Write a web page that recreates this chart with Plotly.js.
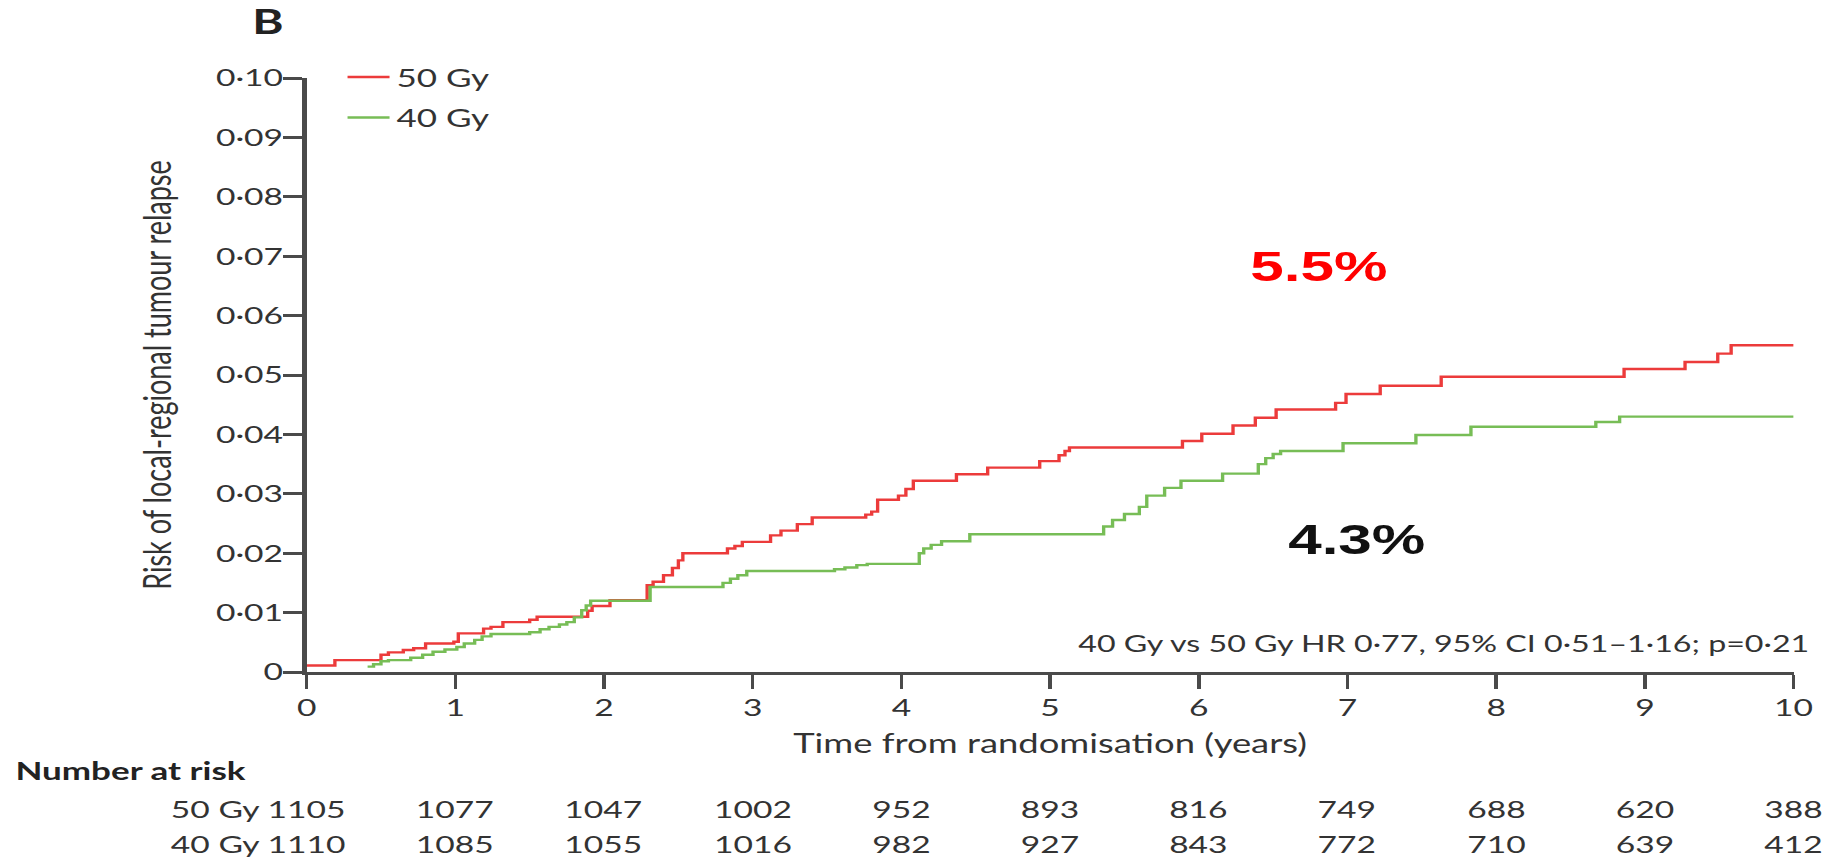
<!DOCTYPE html>
<html>
<head>
<meta charset="utf-8">
<script src="https://cdn.plot.ly/plotly-3.0.1.min.js"></script>
<style>
  html, body { margin: 0; padding: 0; background: #fff; overflow: hidden; }
  #frame { width: 1830px; height: 859px; overflow: hidden; position: relative; }
  #chart { transform-origin: 0 0; }
</style>
</head>
<body>
<div id="frame"><div id="chart"></div></div>
<script>
// Cumulative risk of local-regional tumour relapse (Kaplan-Meier style step curves)
const years = [0, 1, 2, 3, 4, 5, 6, 7, 8, 9, 10];
const yearLabels = ['0', '1', '2', '3', '4', '5', '6', '7', '8', '9', '10'];

const riskTicks = [0, 0.01, 0.02, 0.03, 0.04, 0.05, 0.06, 0.07, 0.08, 0.09, 0.10];
const riskTickLabels = ['0', '0·01', '0·02', '0·03', '0·04', '0·05', '0·06', '0·07', '0·08', '0·09', '0·10'];

// 50 Gy arm: event times (years) and cumulative risk
const time50 = [0.00, 0.19, 0.50, 0.55, 0.65, 0.72, 0.80, 0.99, 1.02, 1.19, 1.24, 1.32, 1.50, 1.55,
  1.89, 1.92, 2.04, 2.29, 2.33, 2.40, 2.46, 2.50, 2.53, 2.83, 2.88, 2.93, 3.12, 3.19, 3.30, 3.40,
  3.76, 3.80, 3.84, 3.98, 4.03, 4.08, 4.37, 4.58, 4.93, 5.06, 5.10, 5.13, 5.89, 6.02, 6.23, 6.38,
  6.52, 6.92, 6.99, 7.22, 7.63, 8.86, 9.27, 9.49, 9.58, 10.00];
const risk50 = [0.0011, 0.0020, 0.0029, 0.0033, 0.0037, 0.0040, 0.0048, 0.0051, 0.0065, 0.0073, 0.0076, 0.0084, 0.0088, 0.0093,
  0.0103, 0.0111, 0.0121, 0.0146, 0.0152, 0.0163, 0.0175, 0.0188, 0.0200, 0.0208, 0.0212, 0.0219, 0.0230, 0.0238, 0.0249, 0.0260,
  0.0265, 0.0270, 0.0290, 0.0297, 0.0308, 0.0322, 0.0333, 0.0344, 0.0355, 0.0365, 0.0372, 0.0378, 0.0389, 0.0401, 0.0415, 0.0428,
  0.0442, 0.0453, 0.0468, 0.0482, 0.0497, 0.0510, 0.0522, 0.0536, 0.0550, 0.0550];

// 40 Gy arm
const time40 = [0.41, 0.45, 0.50, 0.55, 0.70, 0.78, 0.85, 0.93, 1.01, 1.06, 1.13, 1.18, 1.24, 1.50, 1.57,
  1.63, 1.70, 1.75, 1.80, 1.85, 1.88, 1.91, 2.31, 2.80, 2.85, 2.90, 2.96, 3.55, 3.62, 3.70, 3.77,
  4.12, 4.15, 4.20, 4.27, 4.46, 5.36, 5.42, 5.50, 5.60, 5.65, 5.77, 5.88, 6.16, 6.40, 6.45, 6.50,
  6.55, 6.97, 7.46, 7.83, 8.67, 8.83, 10.00];
const risk40 = [0.0009, 0.0013, 0.0018, 0.0020, 0.0024, 0.0029, 0.0034, 0.0038, 0.0042, 0.0048, 0.0054, 0.0060, 0.0064, 0.0067, 0.0072,
  0.0076, 0.0080, 0.0084, 0.0092, 0.0104, 0.0112, 0.0120, 0.0143, 0.0150, 0.0157, 0.0163, 0.0170, 0.0173, 0.0176, 0.0180, 0.0182,
  0.0200, 0.0208, 0.0214, 0.0220, 0.0232, 0.0245, 0.0256, 0.0266, 0.0278, 0.0297, 0.0310, 0.0322, 0.0334, 0.0350, 0.0360, 0.0367,
  0.0372, 0.0385, 0.0399, 0.0413, 0.0421, 0.0430, 0.0430];

// Number at risk at each whole year
const atRisk50 = [1105, 1077, 1047, 1002, 952, 893, 816, 749, 688, 620, 388];
const atRisk40 = [1110, 1085, 1055, 1016, 982, 927, 843, 772, 710, 639, 412];

const armNames = ['50 Gy', '40 Gy'];
const hrText = '40 Gy vs 50 Gy HR 0·77, 95% CI 0·51–1·16; p=0·21';

// ---- drawing ----
const PAGE_W = 1830, PAGE_H = 859;
const W = 1307;                 // layout width, widened horizontally to the page
const S = PAGE_W / W;
const el = document.getElementById('chart');
el.style.width = W + 'px';
el.style.height = PAGE_H + 'px';
el.style.transform = 'scaleX(' + S + ')';

const FONT = 'Lato, "Open Sans", "Noto Sans", sans-serif';
const BIG = '"Liberation Sans", Arial, sans-serif';
const TXT = '#333333';
const AXIS = '#4a4a4a';
const RED = '#ec3b3b';
const GREEN = '#77bd56';

const pct = v => (v * 100).toFixed(1) + '%';

const traces = [
  { x: time50, y: risk50, name: armNames[0], legendgroup: 'a', type: 'scatter', mode: 'lines',
    line: { color: RED, width: 2.4, shape: 'hv' }, cliponaxis: false },
  { x: time40, y: risk40, name: armNames[1], legendgroup: 'b', type: 'scatter', mode: 'lines',
    line: { color: GREEN, width: 2.4, shape: 'hv' }, cliponaxis: false }
];

const rowY = [-0.229, -0.288];
const annotations = [
  { xref: 'x', yref: 'y', x: 6.81, y: 0.0683, text: '<b>' + pct(risk50[risk50.length - 1]) + '</b>',
    showarrow: false, font: { family: BIG, size: 43, color: '#ff0000' } },
  { xref: 'x', yref: 'y', x: 7.06, y: 0.0224, text: '<b>' + pct(risk40[risk40.length - 1]) + '</b>',
    showarrow: false, font: { family: BIG, size: 43, color: '#111111' } },
  { xref: 'paper', yref: 'paper', x: 1.012, y: 0.0488, xanchor: 'right', yanchor: 'middle', text: hrText,
    showarrow: false, font: { family: FONT, size: 23, color: TXT } },
  { xref: 'paper', yref: 'paper', x: -0.1976, y: -0.165, xanchor: 'left', yanchor: 'middle', text: '<b>Number at risk</b>',
    showarrow: false, font: { family: FONT, size: 25, color: '#222222' } }
];
[atRisk50, atRisk40].forEach((row, r) => {
  annotations.push({ xref: 'paper', yref: 'paper', x: -0.029, y: rowY[r], xanchor: 'right', yanchor: 'middle',
    text: armNames[r], showarrow: false, font: { family: FONT, size: 24, color: TXT } });
  row.forEach((n, i) => {
    annotations.push({ xref: 'x', yref: 'paper', x: years[i], y: rowY[r], xanchor: 'center', yanchor: 'middle',
      text: String(n), showarrow: false, font: { family: FONT, size: 24, color: TXT } });
  });
});

const layout = {
  width: W, height: PAGE_H,
  margin: { l: 306 / S, r: W - 1794 / S, t: 78, b: 187 },
  paper_bgcolor: '#ffffff', plot_bgcolor: '#ffffff',
  font: { family: FONT, color: TXT, size: 24 },
  title: { text: '<b>B</b>', xref: 'container', yref: 'container', x: 268 / PAGE_W, y: 1 - 22 / PAGE_H,
    xanchor: 'center', yanchor: 'middle', font: { family: FONT, size: 34, color: '#222222' } },
  showlegend: true,
  legend: { x: 0.0228, y: 1.04, xanchor: 'left', yanchor: 'top', bgcolor: 'rgba(0,0,0,0)',
    font: { family: FONT, size: 25, color: TXT }, traceorder: 'grouped', tracegroupgap: 5 },
  xaxis: {
    range: [0, 10], tickvals: years, ticktext: yearLabels,
    showline: true, linecolor: AXIS, linewidth: 3, mirror: false,
    ticks: 'outside', ticklen: 14, tickwidth: 2.5, tickcolor: AXIS,
    showgrid: false, zeroline: false, fixedrange: true, ticklabelstandoff: -2,
    tickfont: { family: FONT, size: 24, color: TXT },
    title: { text: 'Time from randomisation (years)', standoff: 16, font: { family: FONT, size: 26, color: TXT } }
  },
  yaxis: {
    range: [0, 0.10], tickvals: riskTicks, ticktext: riskTickLabels,
    showline: true, linecolor: AXIS, linewidth: 3, mirror: false,
    ticks: 'outside', ticklen: 14, tickwidth: 3, tickcolor: AXIS,
    showgrid: false, zeroline: false, fixedrange: true, ticklabelstandoff: -5,
    tickfont: { family: FONT, size: 24, color: TXT },
    title: { text: 'Risk of local-regional tumour relapse', standoff: 24, font: { family: FONT, size: 27, color: TXT } }
  },
  annotations: annotations,
  hovermode: false
};

Plotly.newPlot(el, traces, layout, { staticPlot: true, displayModeBar: false, responsive: false });
</script>
</body>
</html>
